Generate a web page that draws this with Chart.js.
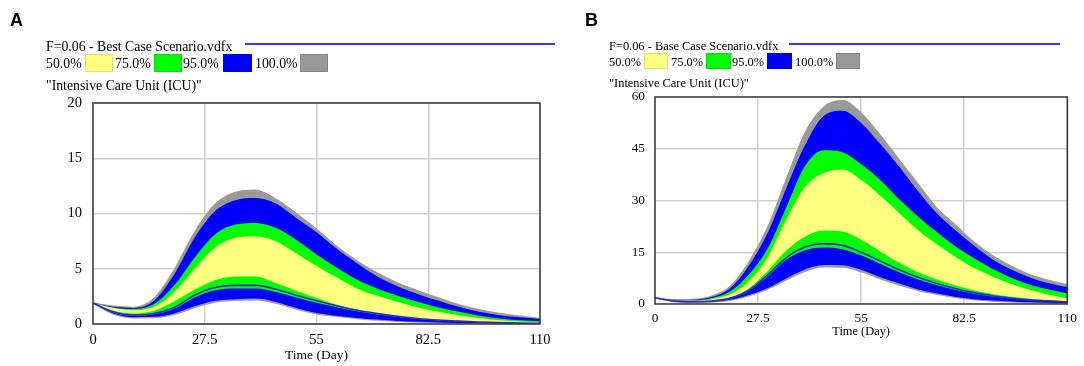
<!DOCTYPE html>
<html>
<head>
<meta charset="utf-8">
<script src="https://cdn.jsdelivr.net/npm/chart.js@4.4.1/dist/chart.umd.min.js"></script>
<style>
  html, body { margin:0; padding:0; background:#fff; }
  body { width:1084px; height:366px; position:relative; overflow:hidden; font-family:"Liberation Serif","Times New Roman",serif; color:#000; }
  .abs { position:absolute; white-space:nowrap; line-height:1; }
  .panel { position:absolute; font-family:"Liberation Sans",Arial,sans-serif; font-weight:bold; font-size:18px; line-height:1; }
  .sw { position:absolute; box-sizing:border-box; border:1px solid rgba(0,0,0,0.12); }
  canvas { position:absolute; top:0; }
</style>
</head>
<body>
<canvas id="cA" width="560" height="366" style="left:0px"></canvas>
<canvas id="cB" width="524" height="366" style="left:560px"></canvas>

<div class="panel" style="left:10px;top:11px;">A</div>
<div class="panel" style="left:585px;top:11px;">B</div>

<!-- Panel A header -->
<div class="abs" style="left:46px;top:40px;font-size:13.8px;">F=0.06 - Best Case Scenario.vdfx</div>
<div class="abs" style="left:245px;top:43px;width:310px;height:2px;background:#3636f0;"></div>
<div class="abs" style="left:46px;top:57px;font-size:13.8px;">50.0%</div>
<div class="sw" style="left:85px;top:54px;width:28px;height:18px;background:#ffff80;"></div>
<div class="abs" style="left:115px;top:57px;font-size:13.8px;">75.0%</div>
<div class="sw" style="left:154px;top:54px;width:28px;height:18px;background:#00ff00;"></div>
<div class="abs" style="left:183px;top:57px;font-size:13.8px;">95.0%</div>
<div class="sw" style="left:223px;top:54px;width:29px;height:18px;background:#0000ff;"></div>
<div class="abs" style="left:255px;top:57px;font-size:13.8px;">100.0%</div>
<div class="sw" style="left:300px;top:54px;width:28px;height:18px;background:#999999;"></div>
<div class="abs" style="left:46px;top:79px;font-size:13.8px;">"Intensive Care Unit (ICU)"</div>

<!-- Panel B header -->
<div class="abs" style="left:609px;top:40px;font-size:12.4px;">F=0.06 - Base Case Scenario.vdfx</div>
<div class="abs" style="left:789px;top:43px;width:271px;height:2px;background:#3636f0;"></div>
<div class="abs" style="left:609px;top:56px;font-size:12.4px;">50.0%</div>
<div class="sw" style="left:644px;top:53px;width:24px;height:16px;background:#ffff80;"></div>
<div class="abs" style="left:671px;top:56px;font-size:12.4px;">75.0%</div>
<div class="sw" style="left:706px;top:53px;width:25px;height:16px;background:#00ff00;"></div>
<div class="abs" style="left:732px;top:56px;font-size:12.4px;">95.0%</div>
<div class="sw" style="left:767px;top:53px;width:25px;height:16px;background:#0000ff;"></div>
<div class="abs" style="left:795px;top:56px;font-size:12.4px;">100.0%</div>
<div class="sw" style="left:836px;top:53px;width:24px;height:16px;background:#999999;"></div>
<div class="abs" style="left:609px;top:77px;font-size:12.4px;">"Intensive Care Unit (ICU)"</div>

<script>
// ---------- DATA ----------
const days = [0,5,10,15,20,25,30,35,40,45,50,55,60,65,70,75,80,85,90,95,100,105,110];
const xTicks = [0, 27.5, 55, 82.5, 110];
const yTicksA = [0, 5, 10, 15, 20];
const yTicksB = [0, 15, 30, 45, 60];

// Panel A: Best Case Scenario (percentile envelopes)
const aMax  = [1.9,1.6,1.5,2.3,4.9,8.3,10.8,11.9,12.1,11.3,10.0,8.6,7.0,5.7,4.6,3.7,3.0,2.35,1.75,1.3,0.95,0.7,0.5];
const aP975 = [1.9,1.55,1.45,2.1,4.5,7.8,10.2,11.2,11.4,10.9,9.6,8.3,6.8,5.5,4.3,3.4,2.7,2.1,1.55,1.1,0.8,0.6,0.45];
const aP875 = [1.9,1.5,1.35,1.8,3.5,6.0,8.1,9.0,9.15,8.7,7.6,6.3,5.1,4.0,3.2,2.55,2.0,1.5,1.1,0.75,0.5,0.35,0.25];
const aP75  = [1.9,1.45,1.25,1.55,2.9,5.0,6.9,7.8,7.95,7.5,6.4,5.25,4.2,3.2,2.55,2.0,1.5,1.1,0.8,0.55,0.35,0.22,0.15];
const aP25  = [1.9,1.2,0.95,1.2,2.05,3.1,3.95,4.3,4.3,3.7,3.0,2.35,1.75,1.3,1.0,0.72,0.5,0.35,0.25,0.17,0.11,0.07,0.05];
const aP125 = [1.9,1.05,0.75,0.88,1.38,2.4,3.05,3.22,3.22,2.9,2.4,1.93,1.52,1.15,0.87,0.64,0.46,0.33,0.24,0.16,0.11,0.07,0.05];
const aP025 = [1.9,0.95,0.62,0.65,0.95,1.6,2.1,2.25,2.3,2.0,1.45,1.0,0.75,0.55,0.4,0.28,0.2,0.14,0.1,0.07,0.05,0.03,0.02];
const aMin  = [1.9,0.9,0.57,0.58,0.87,1.5,2.0,2.15,2.2,1.9,1.37,0.93,0.69,0.5,0.36,0.25,0.17,0.12,0.08,0.05,0.04,0.02,0.01];
const aBase = [1.9,1.1,0.8,0.95,1.5,2.6,3.3,3.5,3.5,3.15,2.6,2.1,1.65,1.25,0.95,0.7,0.5,0.36,0.26,0.18,0.12,0.08,0.06];

// Panel B: Base Case Scenario (percentile envelopes)
const bMax  = [1.8,1.2,1.3,2.2,5.0,12.0,22.0,36.0,49.5,57.0,59.0,55.3,49.0,42.0,35.0,28.0,23.0,18.0,14.0,11.0,8.5,6.8,5.6];
const bP975 = [1.8,1.15,1.2,2.0,4.5,11.0,20.5,33.5,46.0,54.5,56.0,52.5,46.5,40.0,33.0,26.5,21.5,17.0,13.0,10.0,7.7,6.0,4.9];
const bP875 = [1.8,1.1,1.1,1.7,3.6,8.5,16.0,28.0,40.0,44.6,44.0,40.5,36.0,30.5,25.5,21.0,16.8,13.3,10.2,7.6,5.6,4.2,3.1];
const bP75  = [1.8,1.05,1.0,1.4,2.8,6.5,13.5,24.5,34.0,38.0,39.0,36.0,31.5,26.5,21.5,17.5,13.8,10.5,8.0,5.8,4.1,2.7,1.7];
const bP25  = [1.8,0.9,0.7,0.9,1.8,4.5,9.5,15.5,19.5,21.3,21.0,18.6,15.3,12.0,9.3,7.2,5.4,4.0,2.9,2.1,1.5,1.1,0.8];
const bP125 = [1.8,0.85,0.65,0.8,1.6,3.8,8.0,12.8,15.6,16.4,15.9,14.1,11.7,9.3,7.2,5.5,4.1,3.0,2.2,1.6,1.1,0.85,0.6];
const bP025 = [1.8,0.8,0.55,0.65,1.2,2.6,4.6,7.4,10.0,11.3,11.2,9.9,7.8,6.0,4.3,3.1,2.1,1.4,1.0,0.7,0.5,0.35,0.25];
const bMin  = [1.8,0.75,0.5,0.6,1.1,2.4,4.3,7.0,9.5,10.8,10.7,9.4,7.4,5.6,4.0,2.9,1.95,1.3,0.9,0.65,0.45,0.32,0.22];
const bBase = [1.8,0.9,0.7,0.85,1.7,4.0,8.4,13.4,16.5,17.5,17.0,15.0,12.5,10.0,7.8,6.0,4.5,3.3,2.4,1.7,1.2,0.9,0.65];

// ---------- BUILD ----------
const COL = { gray:'#999999', grayEdge:'#a39b92', blue:'#0000ff', green:'#00ff00', yellow:'#ffff80', line:'#2a2acc' };

function pts(arr){ return days.map((d,i)=>({x:d, y:arr[i]})); }

function makeDatasets(s){
  const base = { pointRadius:0, pointHoverRadius:0, cubicInterpolationMode:'monotone', borderWidth:0 };
  return [
    Object.assign({}, base, { data:pts(s.max),  fill:{target:1}, backgroundColor:COL.gray,  borderColor:COL.grayEdge, borderWidth:1.5, order:9 }),
    Object.assign({}, base, { data:pts(s.min),  fill:false, borderColor:COL.grayEdge, borderWidth:1.5, order:8 }),
    Object.assign({}, base, { data:pts(s.p975), fill:{target:3}, backgroundColor:COL.blue,  borderColor:COL.blue, order:7 }),
    Object.assign({}, base, { data:pts(s.p025), fill:false, borderColor:COL.blue, order:6 }),
    Object.assign({}, base, { data:pts(s.p875), fill:{target:5}, backgroundColor:COL.green, borderColor:COL.green, order:5 }),
    Object.assign({}, base, { data:pts(s.p125), fill:false, borderColor:COL.green, order:4 }),
    Object.assign({}, base, { data:pts(s.p75),  fill:{target:7}, backgroundColor:COL.yellow, borderColor:COL.yellow, order:3 }),
    Object.assign({}, base, { data:pts(s.p25),  fill:false, borderColor:COL.yellow, order:2 }),
    Object.assign({}, base, { data:pts(s.base), fill:false, borderColor:COL.line, borderWidth:1.6, order:1 })
  ];
}

const framePlugin = {
  id:'frame',
  afterDraw(chart){
    const a = chart.chartArea, c = chart.ctx;
    c.save();
    c.strokeStyle = '#3a3a3a';
    c.lineWidth = 1.5;
    c.strokeRect(a.left, a.top, a.right - a.left, a.bottom - a.top);
    c.restore();
  }
};

function makeChart(id, series, yTicks, L){
  const serif = 'Liberation Serif, Times New Roman, serif';
  return new Chart(document.getElementById(id), {
    type:'line',
    data:{ datasets: makeDatasets(series) },
    options:{
      responsive:false, animation:false, devicePixelRatio:1,
      layout:{ padding:{ top:L.top, right:L.right, left:0, bottom:0 } },
      plugins:{ legend:{display:false}, tooltip:{enabled:false} },
      scales:{
        x:{
          type:'linear', min:0, max:110, z:1,
          afterBuildTicks(s){ s.ticks = xTicks.map(v=>({value:v})); },
          afterFit(s){ s.height = L.xh; },
          ticks:{ autoSkip:false, maxRotation:0, padding:L.xpad, color:'#000',
                  font:{family:serif, size:L.tick}, callback:(v)=>String(v) },
          grid:{ color:'#d0d0d0', lineWidth:1.5, drawTicks:false },
          border:{ display:false },
          title:{ display:true, text:'Time (Day)', color:'#000', font:{family:serif, size:L.title},
                  padding:{top:0, bottom:L.tpb} }
        },
        y:{
          min:yTicks[0], max:yTicks[yTicks.length-1], z:1,
          afterBuildTicks(s){ s.ticks = yTicks.map(v=>({value:v})); },
          afterFit(s){ s.width = L.yw; },
          ticks:{ padding:L.ypad, color:'#000', font:{family:serif, size:L.tick}, callback:(v)=>String(v) },
          grid:{ color:'#d0d0d0', lineWidth:1.5, drawTicks:false },
          border:{ display:false }
        }
      }
    },
    plugins:[framePlugin]
  });
}

makeChart('cA', {max:aMax,p975:aP975,p875:aP875,p75:aP75,p25:aP25,p125:aP125,p025:aP025,min:aMin,base:aBase},
  yTicksA, {top:103, right:20, xh:42, yw:93, xpad:7, ypad:11, tick:14.5, title:13.5, tpb:2});
makeChart('cB', {max:bMax,p975:bP975,p875:bP875,p75:bP75,p25:bP25,p125:bP125,p025:bP025,min:bMin,base:bBase},
  yTicksB, {top:97, right:15, xh:62, yw:95, xpad:7, ypad:10, tick:13.3, title:12.4, tpb:27});
</script>
</body>
</html>
